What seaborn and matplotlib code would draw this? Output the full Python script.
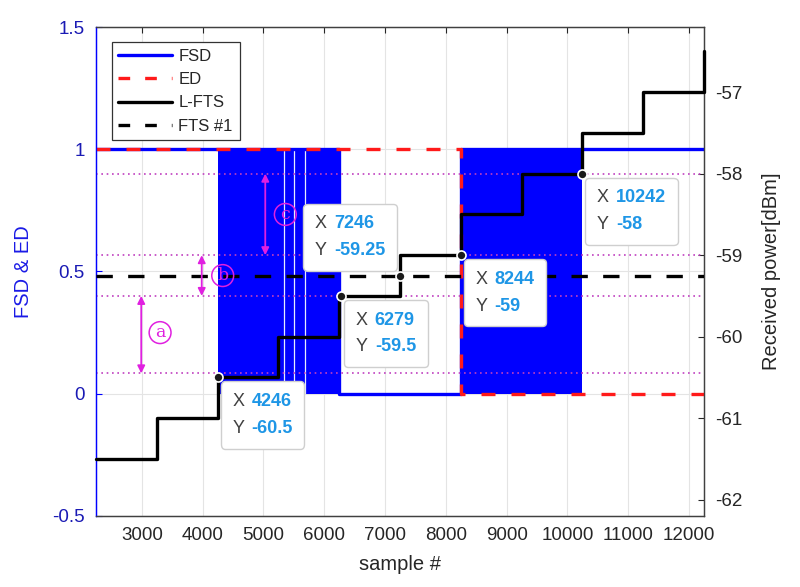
import numpy as np
import pandas as pd
import matplotlib
matplotlib.use('Agg')
import matplotlib.pyplot as plt
import seaborn as sns
from matplotlib.lines import Line2D
from matplotlib.offsetbox import TextArea, HPacker, VPacker, AnnotationBbox

# L-FTS received power staircase (value holds from each x until the next)
step_x = [2246, 3246, 4246, 5246, 6246, 7246, 8246, 9246, 10246, 11246, 12246]
lfts_dbm = [-61.5, -61.0, -60.5, -60.0, -59.5, -59.0, -58.5, -58.0, -57.5, -57.0, -56.5]

# FSD decision (bursts are fast 0/1 switching, shown filled)
fsd_x = [2246, 4246, 6246, 8246, 10246, 12246]
fsd_y = [1, 1, 0, 1, 1, 1]
burst_start = [4246, 8246]
burst_end = [6246, 10246]
burst_gaps = [5330, 5510, 5690]

# ED decision
ed_x = [2246, 8246, 12246]
ed_y = [1, 0, 0]

fts1_dbm = -59.25
level_dbm = [-58.0, -59.0, -59.5, -60.45]

# data tips
tip_x = [4246, 6279, 7246, 8244, 10242]
tip_y = [-60.5, -59.5, -59.25, -59, -58]
tip_val_y = ['-60.5', '-59.5', '-59.25', '-59', '-58']
tip_above = [False, False, True, False, False]

# magenta range markers
mark_x = [2990, 3985, 5030]
mark_lo = [-60.45, -59.5, -59.0]
mark_hi = [-59.5, -59.0, -58.0]
mark_tag = ['a', 'b', 'c']
tag_x = [3300, 4330, 5360]
tag_y = [-59.95, -59.25, -58.5]

blue = '#0000ff'
red = '#ff1a1a'
mag = '#e020e0'
dark = '#262626'

sns.set_style('white')
plt.rcParams['font.family'] = ['Liberation Sans', 'DejaVu Sans']

fig = plt.figure(figsize=(8, 5.87), dpi=100)
ax = fig.add_axes([0.12, 0.121, 0.76, 0.833])
ax2 = ax.twinx()

# left axis: FSD & ED
ax.grid(True, color='#e4e4e4', lw=0.8)
ax.set_axisbelow(True)
for s, e in zip(burst_start, burst_end):
    ax.fill_between([s, e], 0, 1, color=blue, lw=0, zorder=2)
ax.vlines(burst_gaps, 0, 1, color='#e6eaff', lw=0.9, zorder=2.5)
sns.lineplot(x=fsd_x, y=fsd_y, ax=ax, drawstyle='steps-post', color=blue,
             lw=2.4, estimator=None, sort=False, zorder=3)
sns.lineplot(x=ed_x, y=ed_y, ax=ax, drawstyle='steps-post', color=red,
             lw=2.4, ls=(0, (4.2, 4.8)), estimator=None, sort=False, zorder=4)

ax.set_xlim(2246, 12246)
ax.set_ylim(-0.5, 1.5)
ax.set_xticks(range(3000, 12001, 1000))
ax.set_yticks([-0.5, 0, 0.5, 1, 1.5])
ax.set_yticklabels(['-0.5', '0', '0.5', '1', '1.5'])
ax.set_xlabel('sample #', fontsize=14.5, color=dark, labelpad=8)
ax.set_ylabel('FSD & ED', fontsize=14.5, color='#1a1ae6', labelpad=14)
ax.tick_params(axis='x', direction='in', length=4, top=True, labelsize=13.5,
               labelcolor=dark, color=dark, pad=8)
ax.tick_params(axis='y', direction='in', length=4, labelsize=13.5,
               labelcolor='#1a1ab4', color=blue, pad=8)

# right axis: received power
for lv in level_dbm:
    ax2.axhline(lv, color='#c040c0', lw=1.2, ls=(0, (1, 2.2)), zorder=2)
ax2.axhline(fts1_dbm, color='black', lw=2.4, ls=(0, (4.9, 4.6)), zorder=3)
sns.lineplot(x=step_x, y=lfts_dbm, ax=ax2, drawstyle='steps-post', color='black',
             lw=2.4, estimator=None, sort=False, zorder=4, clip_on=False)
ax2.plot(tip_x, tip_y, 'o', ms=6.5, mfc='#1a1a1a', mec='white', mew=1.2, zorder=6)

for x, lo, hi in zip(mark_x, mark_lo, mark_hi):
    ax2.annotate('', xy=(x, hi), xytext=(x, lo),
                 arrowprops=dict(arrowstyle='<|-|>', color=mag, lw=1.3,
                                 mutation_scale=11, shrinkA=0, shrinkB=0), zorder=5)
for x, y, t in zip(tag_x, tag_y, mark_tag):
    ax2.text(x, y, t, color=mag, fontsize=12.5, family='DejaVu Serif',
             ha='center', va='center', zorder=5,
             bbox=dict(boxstyle='circle,pad=0.14', fc='none', ec=mag, lw=1.1))

ax2.set_ylim(-62.2, -56.2)
ax2.set_yticks([-62, -61, -60, -59, -58, -57])
ax2.set_yticklabels(['-62', '-61', '-60', '-59', '-58', '-57'])
ax2.set_ylabel('Received power[dBm]', fontsize=14.5, color=dark, labelpad=14)
ax2.tick_params(axis='y', direction='in', length=4, labelsize=13.5,
                labelcolor=dark, color=dark, pad=8)

for a in (ax, ax2):
    for side in ('top', 'bottom', 'right'):
        a.spines[side].set_color('#404040')
        a.spines[side].set_linewidth(0.9)
    a.spines['left'].set_color(blue)
    a.spines['left'].set_linewidth(0.9)

# data tip boxes
for x, y, vy, above in zip(tip_x, tip_y, tip_val_y, tip_above):
    rows = []
    for lab, val in (('X', str(x)), ('Y', vy)):
        rows.append(HPacker(children=[
            TextArea(lab, textprops=dict(color='#404040', size=13)),
            TextArea(val, textprops=dict(color='#1e96e6', size=13, weight='bold'))],
            align='baseline', pad=0, sep=5))
    box = VPacker(children=rows, align='left', pad=0, sep=7)
    if above:
        xybox, align = (-10.6, 12), (1, 0)
    else:
        xybox, align = (10.6, -11.3), (0, 1)
    ab = AnnotationBbox(box, (x, y), xycoords=ax2.transData, xybox=xybox,
                        boxcoords='offset points', box_alignment=align,
                        fontsize=12, zorder=7,
                        bboxprops=dict(boxstyle='round,pad=0.7,rounding_size=0.25',
                                       fc='white', ec='#cfcfcf', lw=1))
    ax2.add_artist(ab)

handles = [Line2D([], [], color=blue, lw=2.4),
           Line2D([], [], color=red, lw=2.4, ls=(0, (3.5, 4.5))),
           Line2D([], [], color='black', lw=2.4),
           Line2D([], [], color='black', lw=2.4, ls=(0, (3.5, 4.5)))]
leg = ax2.legend(handles, ['FSD', 'ED', 'L-FTS', 'FTS #1'], loc='upper left',
                 bbox_to_anchor=(0.026, 0.969), borderaxespad=0, fontsize=12,
                 handlelength=3.2, handletextpad=0.4, labelspacing=0.5,
                 borderpad=0.4, fancybox=False, framealpha=1, edgecolor='#333333')
leg.get_frame().set_linewidth(0.9)
leg.set_zorder(8)

fig.savefig('out.png', dpi=100)
